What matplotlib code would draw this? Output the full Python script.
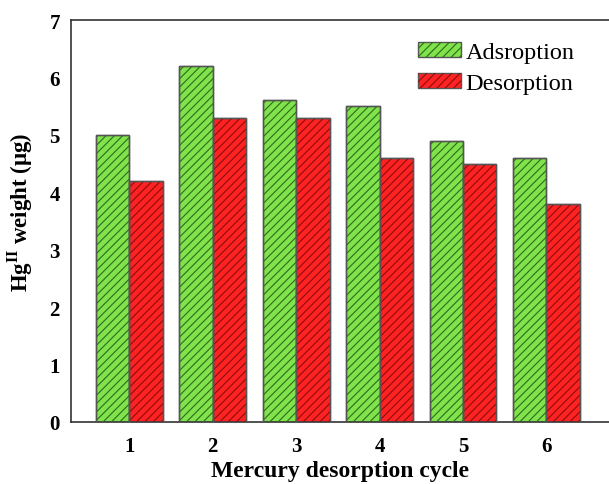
import numpy as np
import matplotlib
matplotlib.use("Agg")
import matplotlib.pyplot as plt
from matplotlib.patches import Patch

plt.rcParams['font.family'] = ['Liberation Serif', 'DejaVu Serif']
plt.rcParams['mathtext.fontset'] = 'custom'
plt.rcParams['mathtext.rm'] = 'Liberation Serif:bold'
plt.rcParams['hatch.linewidth'] = 0.8

cycles = [1, 2, 3, 4, 5, 6]
adsorption = [5.0, 6.2, 5.6, 5.5, 4.9, 4.6]
desorption = [4.2, 5.3, 5.3, 4.6, 4.5, 3.8]

green, green_hatch = '#80e34c', '#2f6a1c'
red, red_hatch = '#ff2222', '#8a0d0d'
edge = '#555555'

fig = plt.figure(figsize=(6.09, 4.85), dpi=100)
ax = fig.add_axes([71/609, 62/485, 1 - 71/609, (423 - 21)/485])

x = np.array(cycles)
w = 0.4

def hatched_bars(pos, vals, fc, hc):
    ax.bar(pos, vals, w, color=fc, edgecolor=edge, linewidth=1.0, zorder=2)
    ax.bar(pos, vals, w, color='none', edgecolor=hc, hatch='////', linewidth=0, zorder=3)
    ax.bar(pos, vals, w, color='none', edgecolor=edge, linewidth=1.0, zorder=4)

hatched_bars(x - w/2, adsorption, green, green_hatch)
hatched_bars(x + w/2, desorption, red, red_hatch)

ax.set_xlim(0.3, 6.75)
ax.set_ylim(0, 7)
ax.set_xticks(cycles)
ax.set_yticks(range(0, 8))
ax.tick_params(length=0, labelsize=15)
ax.tick_params(axis='y', pad=8)
ax.tick_params(axis='x', pad=10)
for lab in ax.get_xticklabels() + ax.get_yticklabels():
    lab.set_fontweight('bold')
ax.spines['right'].set_visible(False)
for s in ['left', 'top', 'bottom']:
    ax.spines[s].set_linewidth(1.2)
    ax.spines[s].set_color('#333333')

ax.set_xlabel('Mercury desorption cycle', fontsize=17, fontweight='bold', labelpad=3)
ax.set_ylabel(r'Hg$^{\rm II}$ weight (μg)', fontsize=16.5, fontweight='bold')
ax.yaxis.set_label_coords(-0.066, 0.525)

h1 = (Patch(facecolor=green, edgecolor=edge, linewidth=1.0),
      Patch(facecolor='none', edgecolor=green_hatch, hatch='////', linewidth=0))
h2 = (Patch(facecolor=red, edgecolor=edge, linewidth=1.0),
      Patch(facecolor='none', edgecolor=red_hatch, hatch='////', linewidth=0))
ax.legend([h1, h2], ['Adsroption', 'Desorption'], loc='upper left',
          bbox_to_anchor=(0.605, 1.0), frameon=False, fontsize=17.5,
          handlelength=1.75, handleheight=0.6, handletextpad=0.2, labelspacing=0.4)

fig.savefig('out.png', dpi=100)
